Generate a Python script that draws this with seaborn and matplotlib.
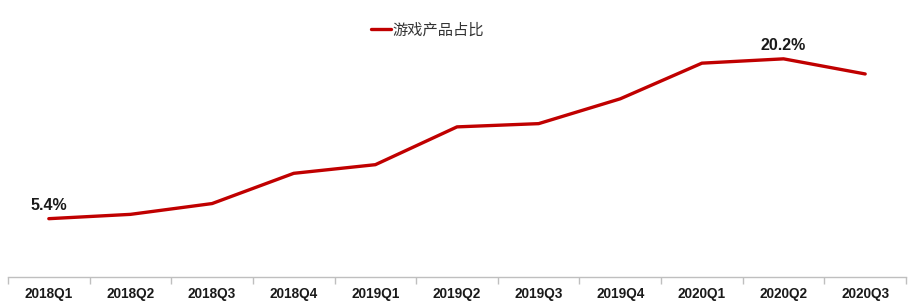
import matplotlib
matplotlib.use("Agg")
import matplotlib.pyplot as plt
import seaborn as sns
import pandas as pd

quarters = ["2018Q1", "2018Q2", "2018Q3", "2018Q4", "2019Q1", "2019Q2",
            "2019Q3", "2019Q4", "2020Q1", "2020Q2", "2020Q3"]
game_share = [5.4, 5.8, 6.8, 9.6, 10.4, 13.9, 14.2, 16.5, 19.8, 20.2, 18.8]
series_name = "游戏产品占比"
labels = {0: "5.4%", 9: "20.2%"}

sns.set_theme(style="white")
plt.rcParams['font.family'] = ['Liberation Sans', 'Noto Sans CJK SC', 'DejaVu Sans']

df = pd.DataFrame({"quarter": quarters, "value": game_share, "series": series_name})
df["pos"] = range(len(quarters))

fig = plt.figure(figsize=(9.17, 3.04), dpi=100)
ax = fig.add_axes([8/917, 27/304, 898/917, 270/304])

sns.lineplot(data=df, x="pos", y="value", hue="series", palette=["#C00000"],
             linewidth=2.4, ax=ax, legend=True)

ax.set_xlim(-0.5, len(quarters) - 0.5)
ax.set_ylim(0, 25)
ax.set_xticks(range(len(quarters)))
ax.set_xticklabels(quarters, fontsize=9.8, fontweight="bold", color="#1a1a1a")
ax.tick_params(axis="x", which="major", length=0, pad=7)
ax.set_xticks([i - 0.5 for i in range(len(quarters) + 1)], minor=True)
ax.tick_params(axis="x", which="minor", length=5, color="#bfbfbf", width=1, direction="out", bottom=True)
ax.set_yticks([])
ax.set_xlabel("")
ax.set_ylabel("")
for s in ["top", "right", "left"]:
    ax.spines[s].set_visible(False)
ax.spines["bottom"].set_color("#bfbfbf")
ax.spines["bottom"].set_linewidth(1)

for i, txt in labels.items():
    ax.annotate(txt, (i, game_share[i]), xytext=(0, 4), textcoords="offset points",
                ha="center", va="bottom", fontsize=11.5, fontweight="bold", color="#1a1a1a")

leg = ax.legend(loc="upper center", bbox_to_anchor=(0.467, 0.998), frameon=False,
                handlelength=1.3, handletextpad=0.1, fontsize=11)
for t in leg.get_texts():
    t.set_color("#333333")
    t.set_fontfamily(['Noto Sans CJK SC', 'DejaVu Sans'])

fig.savefig("out.png", dpi=100)
